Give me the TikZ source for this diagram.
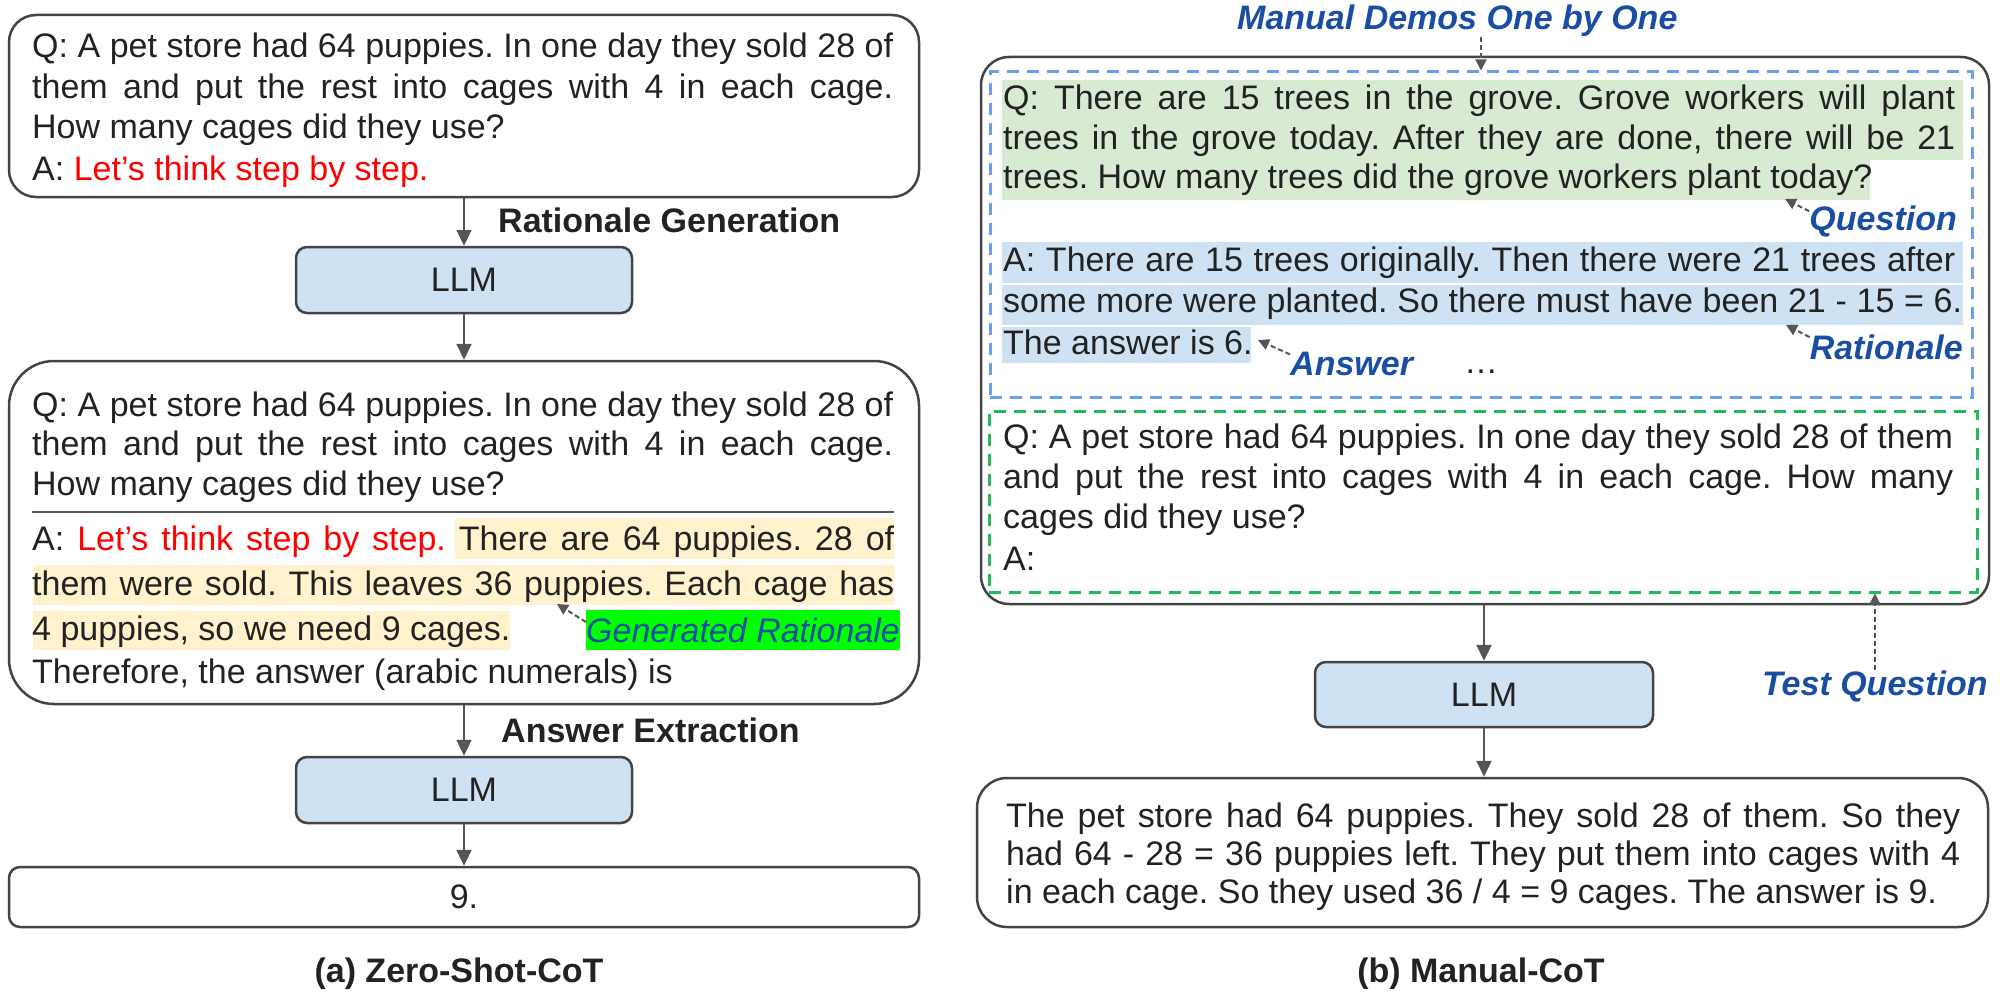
\documentclass[tikz,border=0pt]{standalone}
\usepackage{fontspec}
\setmainfont{Liberation Sans}
\usetikzlibrary{arrows.meta}
\definecolor{txt}{HTML}{222222}
\definecolor{bord}{HTML}{444444}
\definecolor{arrc}{HTML}{555555}
\definecolor{llmfill}{HTML}{CFE2F3}
\definecolor{hlY}{HTML}{FFF2CC}
\definecolor{hlG}{HTML}{D9EAD3}
\definecolor{hlB}{HTML}{CFE2F3}
\definecolor{lbl}{HTML}{1A4EA2}
\definecolor{dblue}{HTML}{6D9EEB}
\definecolor{dgreen}{HTML}{22BB5B}
\definecolor{red1}{HTML}{FF0000}
\definecolor{grn}{HTML}{00FF00}
\newcommand\fs{\fontsize{34pt}{41pt}\selectfont\frenchspacing}
\newcommand\jline[2]{\makebox[#1][s]{#2}}
\begin{document}
\frenchspacing
\begin{tikzpicture}[x=1pt,y=-1pt,
  ln/.style={anchor=base west, inner sep=0pt, text=txt, font=\fs},
  lab/.style={inner sep=0pt, text=lbl, font=\fs\bfseries\itshape},
  bigbox/.style={draw=bord, line width=2.5pt, inner sep=0pt},
  llmbox/.style={draw=bord, fill=llmfill, line width=2.5pt, rounded corners=11pt, minimum width=336pt, minimum height=66pt, inner sep=0pt, text=txt, font=\fs},
  arr/.style={draw=arrc, line width=2.2pt, -{Triangle[length=16pt,width=15pt]}},
  darr/.style={draw=arrc, line width=2pt, dash pattern=on 5pt off 3pt, -{Triangle[length=11pt,width=11pt]}},
  dbox/.style={line width=3pt, dash pattern=on 12pt off 8pt, inner sep=0pt}
]
\useasboundingbox (0,0) rectangle (2000,998);

% ---------- highlights ----------
\fill[hlY] (455,518) rectangle (894,559);
\fill[hlY] (33,565) rectangle (894,605);
\fill[hlY] (33,611) rectangle (510,650);
\fill[hlG] (1002,80) rectangle (1963,160);
\fill[hlG] (1002,160) rectangle (1870,200);
\fill[hlB] (1002,242) rectangle (1963,283);
\fill[hlB] (1002,285) rectangle (1963,325);
\fill[hlB] (1002,327) rectangle (1251,363);

% ---------- left panel boxes ----------
\node[bigbox, rounded corners=27pt, minimum width=910pt, minimum height=182pt] (q1) at (464,106) {};
\node[llmbox] (llm1) at (464,280) {LLM};
\node[bigbox, rounded corners=45pt, minimum width=910pt, minimum height=343pt] (q2) at (464,532.5) {};
\node[llmbox] (llm2) at (464,790) {LLM};
\node[bigbox, rounded corners=11pt, minimum width=910pt, minimum height=60pt, text=txt, font=\fs] (ans) at (464,897) {9.};

\draw[arr] (q1.south) -- (llm1.north);
\draw[arr] (llm1.south) -- (q2.north);
\draw[arr] (q2.south) -- (llm2.north);
\draw[arr] (llm2.south) -- (ans.north);

% left texts
\node[ln] (a1) at (32,58) {\jline{861pt}{Q: A pet store had 64 puppies. In one day they sold 28 of}};
\node[ln] (a2) at (32,98) {\jline{861pt}{them and put the rest into cages with 4 in each cage.}};
\node[ln] (a3) at (32,138) {How many cages did they use?};
\node[ln] (a4) at (32,180) {A: \textcolor{red1}{Let’s think step by step.}};

\node[ln, font=\fs\bfseries] (rg) at (498,232) {Rationale Generation};

\node[ln] (b1) at (32,416) {\jline{861pt}{Q: A pet store had 64 puppies. In one day they sold 28 of}};
\node[ln] (b2) at (32,455) {\jline{861pt}{them and put the rest into cages with 4 in each cage.}};
\node[ln] (b3) at (32,495) {How many cages did they use?};
\draw[draw=arrc, line width=2.5pt] (32,512) -- (894,512);
\node[ln] (b4) at (32,550) {\jline{862pt}{A: \textcolor{red1}{Let’s think step by step.} There are 64 puppies. 28 of}};
\node[ln] (b5) at (32,595) {\jline{862pt}{them were sold. This leaves 36 puppies. Each cage has}};
\node[ln] (b6) at (32,640) {4 puppies, so we need 9 cages.};
\node[ln] (b7) at (32,683) {Therefore, the answer (arabic numerals) is};

\node[fill=grn, inner xsep=0pt, inner ysep=0pt, minimum height=40pt, anchor=west, text=lbl, font=\fs\itshape] (grl) at (586,630) {Generated Rationale};
\coordinate (gtip) at (557,604);
\draw[darr] ([yshift=8pt]grl.west) -- (gtip);

\node[ln, font=\fs\bfseries] (ae) at (501,742) {Answer Extraction};

\node[anchor=base, inner sep=0pt, text=txt, font=\fs\bfseries] (capa) at (459,982) {(a) Zero-Shot-CoT};

% ---------- right panel ----------
\node[bigbox, rounded corners=28pt, minimum width=1008pt, minimum height=547pt] (outer) at (1485,330.5) {};
\node[dbox, draw=dblue, minimum width=982pt, minimum height=325pt] (bluebox) at (1481,234.5) {};
\node[dbox, draw=dgreen, minimum width=988pt, minimum height=181pt] (greenbox) at (1483,501.5) {};
\node[llmbox, minimum width=338pt, minimum height=65pt] (llm3) at (1484,694.5) {LLM};
\node[bigbox, rounded corners=30pt, minimum width=1011pt, minimum height=149pt] (final) at (1482.5,852.5) {};

\draw[arr] (llm3.north |- outer.south) -- (llm3.north);
\draw[arr] (llm3.south) -- (llm3.south |- final.north);

\node[lab, anchor=base west] (mdl) at (1237,30) {Manual Demos One by One};
\draw[darr] (mdl.south -| bluebox.north) -- (bluebox.north);

\node[ln] (c1) at (1003,110) {\jline{952pt}{Q: There are 15 trees in the grove. Grove workers will plant}};
\node[ln] (c2) at (1003,149) {\jline{952pt}{trees in the grove today. After they are done, there will be 21}};
\node[ln] (c3) at (1003,188) {trees. How many trees did the grove workers plant today?};
\node[ln] (c4) at (1003,271) {\jline{952pt}{A: There are 15 trees originally. Then there were 21 trees after}};
\node[ln] (c5) at (1003,312) {\jline{959pt}{some more were planted. So there must have been 21 - 15 = 6.}};
\node[ln] (c6) at (1003,354) {The answer is 6.};

\node[lab, anchor=base east] (qlab) at (1957,230) {Question};
\coordinate (qtip) at (1785,199);
\draw[darr] ([yshift=-6pt]qlab.north west) -- (qtip);

\node[lab, anchor=base east] (rlab) at (1963,359) {Rationale};
\coordinate (rtip) at (1786,325);
\draw[darr] ([yshift=-3pt]rlab.north west) -- (rtip);

\node[lab, anchor=base west] (alab) at (1290,375) {Answer};
\coordinate (atip) at (1258,340);
\draw[darr] ([yshift=-3pt]alab.north west) -- (atip);

\node[ln] (dots) at (1464,373) {…};

\node[ln] (d1) at (1003,448) {\jline{950pt}{Q: A pet store had 64 puppies. In one day they sold 28 of them}};
\node[ln] (d2) at (1003,488) {\jline{950pt}{and put the rest into cages with 4 in each cage. How many}};
\node[ln] (d3) at (1003,528) {cages did they use?};
\node[ln] (d4) at (1003,570) {A:};

\node[lab, anchor=base west] (tql) at (1762,695) {Test Question};
\draw[darr] (tql.north) -- (tql.north |- greenbox.south);

\node[ln] (e1) at (1006,827) {\jline{954pt}{The pet store had 64 puppies. They sold 28 of them. So they}};
\node[ln] (e2) at (1006,865) {\jline{954pt}{had 64 - 28 = 36 puppies left. They put them into cages with 4}};
\node[ln] (e3) at (1006,903) {in each cage. So they used 36 / 4 = 9 cages. The answer is 9.};

\node[anchor=base, inner sep=0pt, text=txt, font=\fs\bfseries] (capb) at (1481,982) {(b) Manual-CoT};
\end{tikzpicture}
\end{document}
